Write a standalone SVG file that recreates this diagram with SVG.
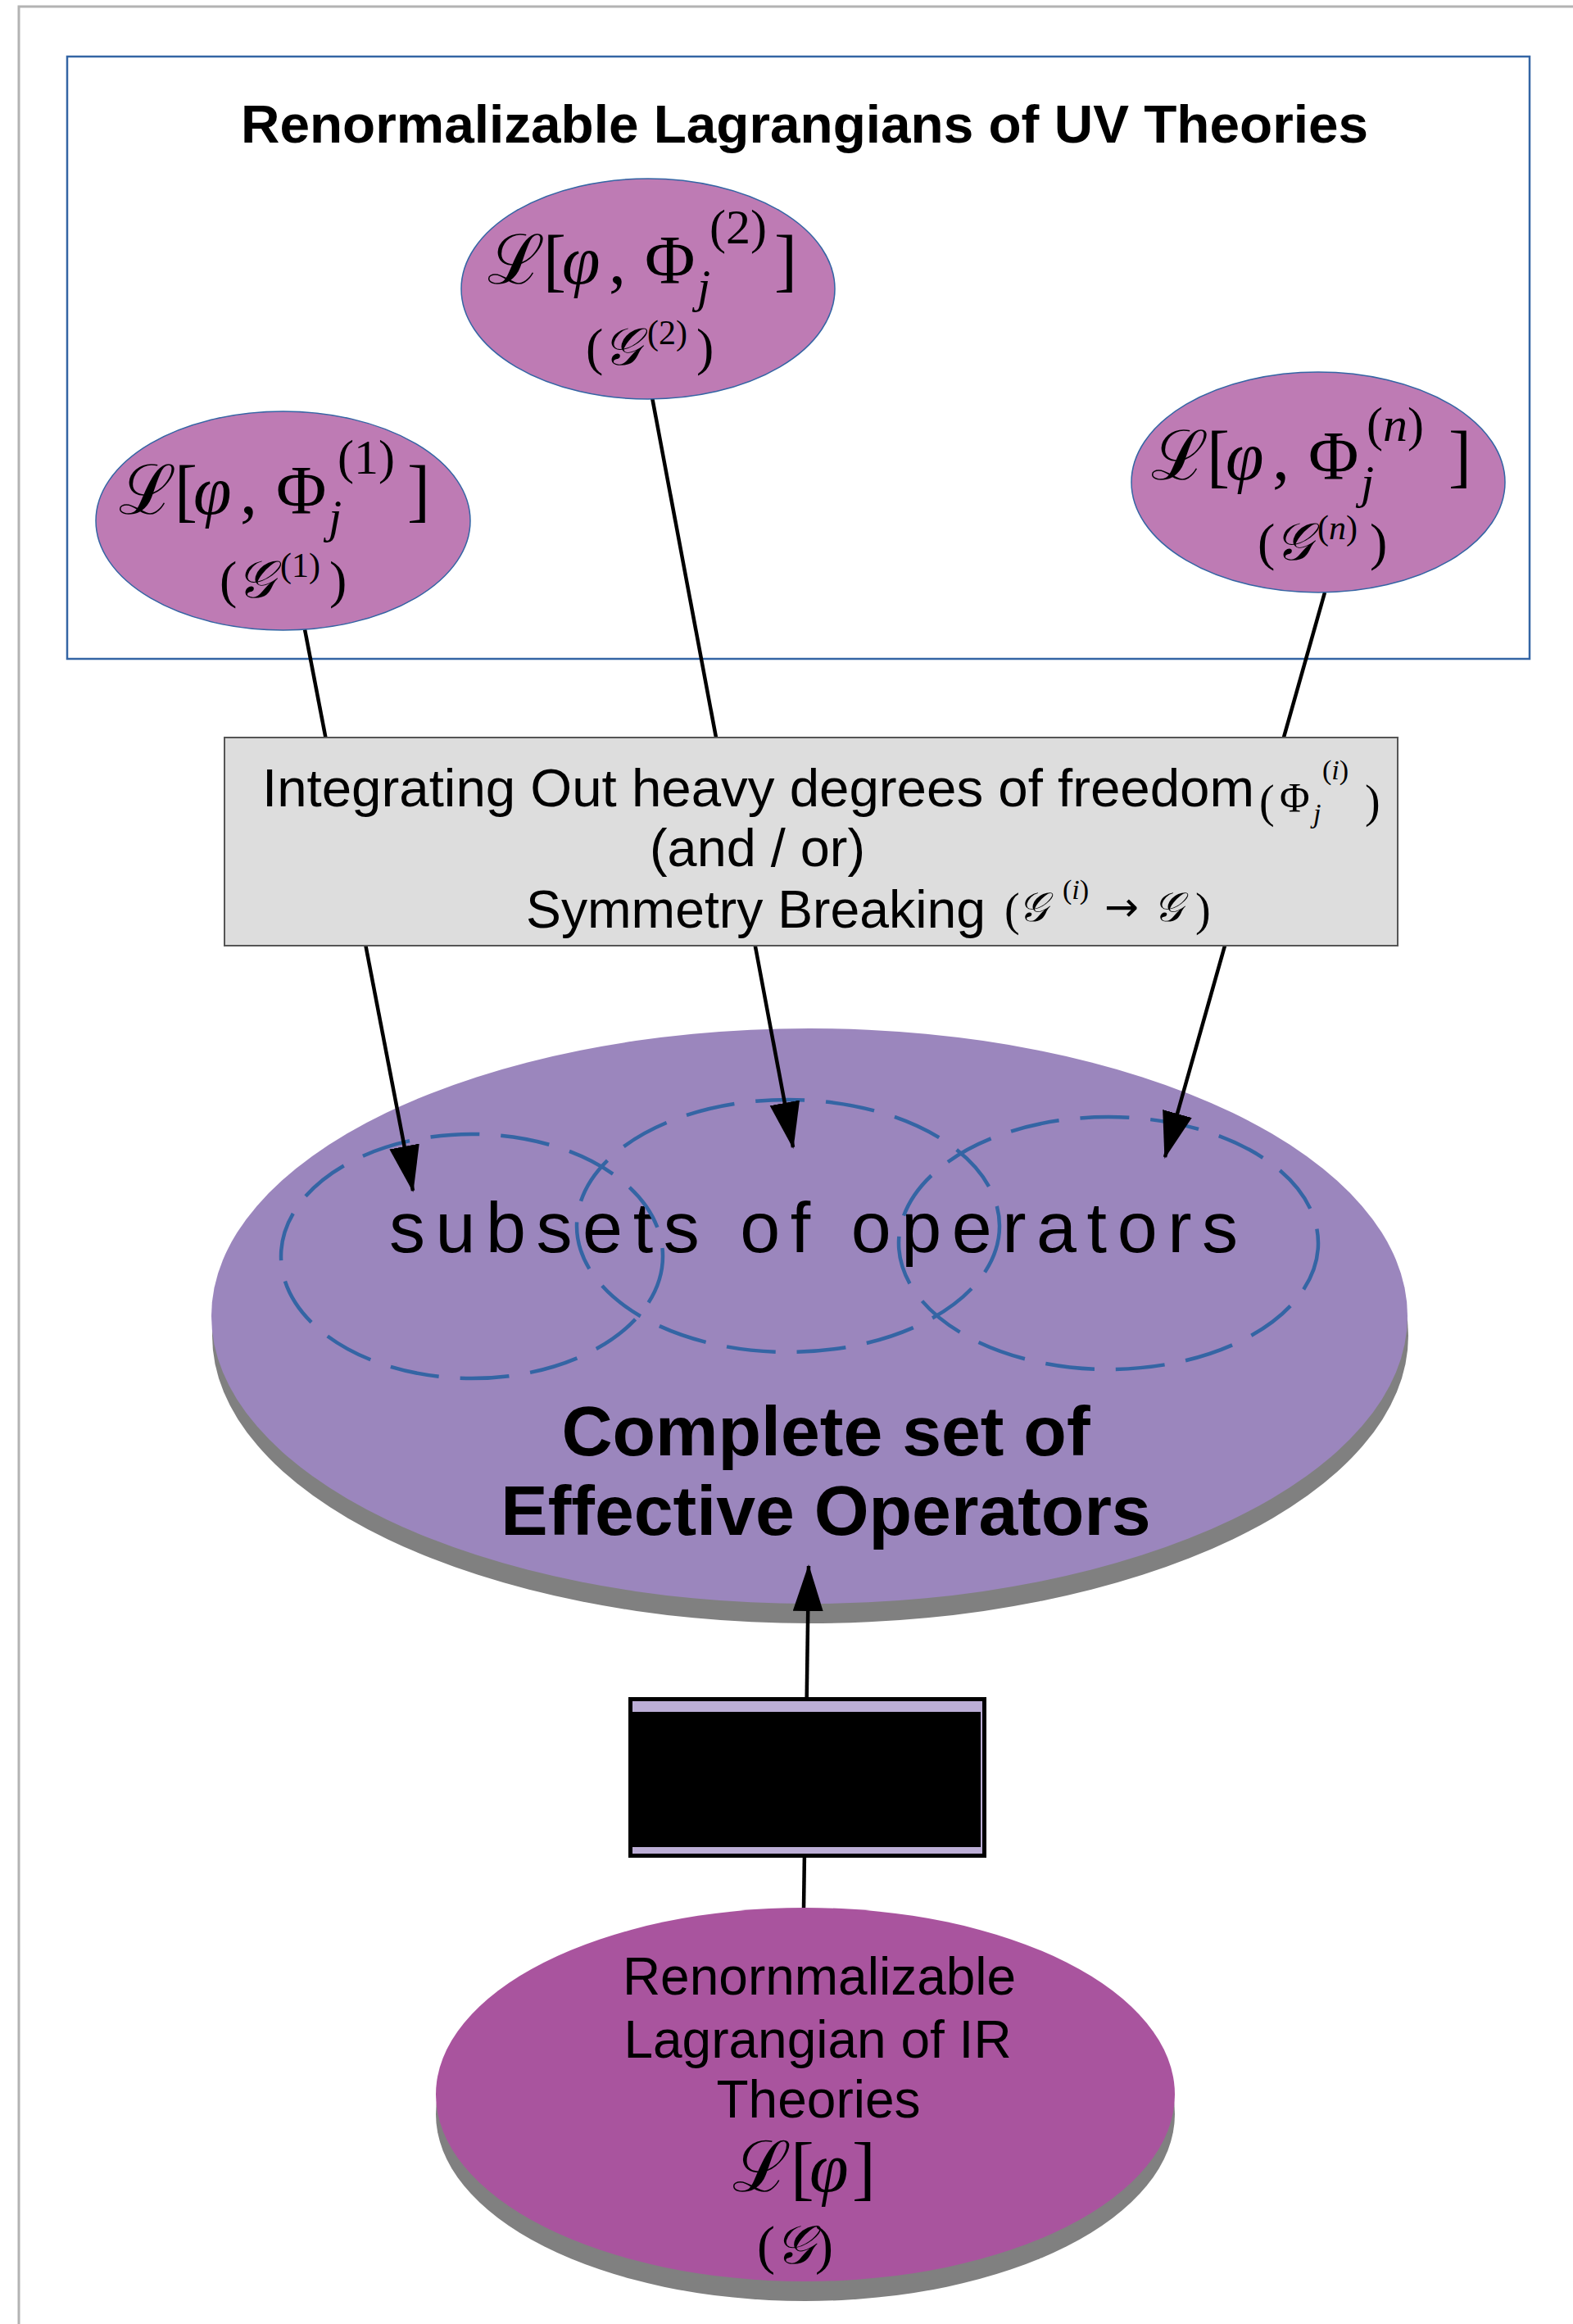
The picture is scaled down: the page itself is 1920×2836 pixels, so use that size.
<svg xmlns="http://www.w3.org/2000/svg" width="1920" height="2836" viewBox="0 0 1920 2836">
<style>
.uv{fill:#be7bb4;stroke:#3465a4;stroke-width:1.5}
.m{font-family:"Liberation Serif","DejaVu Serif",serif;fill:#000}
.i{font-style:italic}
.t{font-family:"Liberation Sans",Arial,sans-serif;fill:#000}
.b{font-weight:bold}
.conn{stroke:#000;stroke-width:4.5;fill:none}
.dash{fill:none;stroke:#3465a4;stroke-width:4.5;stroke-dasharray:60 26}
</style>
<defs>
<marker id="ah" markerUnits="userSpaceOnUse" markerWidth="60" markerHeight="40" refX="55" refY="18.5" orient="auto"><path d="M0,0 L57,18.5 L0,37 z" fill="#000"/></marker>
</defs>
<rect width="1920" height="2836" fill="#fff"/>
<path d="M23,2836 V8 H1920" fill="none" stroke="#b3b3b3" stroke-width="3"/>

<g id="uv-theories">
<rect x="82" y="69" width="1785" height="735" fill="none" stroke="#3465a4" stroke-width="2.5"/>
<text class="t b" x="982" y="174" font-size="64" text-anchor="middle" textLength="1376" lengthAdjust="spacingAndGlyphs">Renormalizable Lagrangians of UV Theories</text>
</g>

<g id="complete-set">
<ellipse cx="989" cy="1630" rx="730" ry="351" fill="#808080"/>
<ellipse cx="988" cy="1606" rx="730" ry="351" fill="#9b86bd"/>
<text class="t" x="475" y="1528" font-size="88" textLength="1036" lengthAdjust="spacing">subsets of operators</text>
<ellipse class="dash" cx="576" cy="1533" rx="233" ry="149"/>
<ellipse class="dash" cx="962" cy="1496" rx="258" ry="154"/>
<ellipse class="dash" cx="1353" cy="1517" rx="256" ry="154"/>
<text class="t b" x="1008" y="1776" font-size="86" text-anchor="middle">Complete set of</text>
<text class="t b" x="1008" y="1873" font-size="86" text-anchor="middle">Effective Operators</text>
</g>

<g id="connectors">
<line class="conn" x1="372" y1="768" x2="504" y2="1453" marker-end="url(#ah)"/>
<line class="conn" x1="796" y1="485" x2="968" y2="1400" marker-end="url(#ah)"/>
<line class="conn" x1="1617" y1="723" x2="1422" y2="1412" marker-end="url(#ah)"/>
<line class="conn" x1="981" y1="2329" x2="987" y2="1911" marker-end="url(#ah)"/>
</g>

<g id="integrating-out">
<rect x="274" y="900" width="1432" height="254" fill="#dddddd" stroke="#555" stroke-width="2"/>
<text class="t" x="320" y="984" font-size="65" textLength="1211" lengthAdjust="spacingAndGlyphs">Integrating Out heavy degrees of freedom</text>
<text class="m" font-size="56"><tspan x="1537" y="997">(</tspan><tspan x="1562" y="990" font-size="50">Φ</tspan><tspan x="1666" y="997">)</tspan></text>
<text class="m" font-size="34"><tspan x="1614" y="951">(</tspan><tspan class="i">i</tspan><tspan>)</tspan></text>
<text class="m i" font-size="34" x="1603" y="1004">j</text>
<text class="t" x="793" y="1057" font-size="65" textLength="263" lengthAdjust="spacingAndGlyphs">(and / or)</text>
<text class="t" x="642" y="1132" font-size="65" textLength="561" lengthAdjust="spacingAndGlyphs">Symmetry Breaking</text>
<text class="m" font-size="56"><tspan x="1226" y="1129">(</tspan><tspan class="i" x="1243" y="1124" font-size="50">𝒢</tspan><tspan x="1348" y="1124" font-family="DejaVu Sans" font-size="50">→</tspan><tspan class="i" x="1408" y="1124" font-size="50">𝒢</tspan><tspan x="1459" y="1129">)</tspan></text>
<text class="m" font-size="34"><tspan x="1297" y="1097">(</tspan><tspan class="i">i</tspan><tspan>)</tspan></text>
</g>

<g id="uv-1">
<ellipse class="uv" cx="345.5" cy="635.5" rx="228.5" ry="133.5"/>
<text class="m" font-size="84"><tspan x="145" y="627">ℒ</tspan><tspan x="213" y="627">[</tspan><tspan class="i" x="236" y="627">φ</tspan><tspan x="293" y="627">,</tspan><tspan x="337" y="627">Φ</tspan><tspan x="497" y="627">]</tspan></text>
<text class="m i" font-size="58" x="401" y="650">j</text>
<text class="m" font-size="60" x="412" y="578">(1)</text>
<text class="m" font-size="64"><tspan x="268" y="729">(</tspan><tspan class="i" x="289" y="729">𝒢</tspan><tspan x="402" y="729">)</tspan></text>
<text class="m" font-size="42" x="342" y="704">(1)</text>
</g>

<g id="uv-2">
<ellipse class="uv" cx="791" cy="352.5" rx="228" ry="134.5"/>
<text class="m" font-size="84"><tspan x="595" y="346">ℒ</tspan><tspan x="663" y="346">[</tspan><tspan class="i" x="686" y="346">φ</tspan><tspan x="743" y="346">,</tspan><tspan x="787" y="346">Φ</tspan><tspan x="945" y="346">]</tspan></text>
<text class="m i" font-size="58" x="851" y="369">j</text>
<text class="m" font-size="60" x="866" y="297">(2)</text>
<text class="m" font-size="64"><tspan x="715" y="445">(</tspan><tspan class="i" x="736" y="445">𝒢</tspan><tspan x="850" y="445">)</tspan></text>
<text class="m" font-size="42" x="790" y="420">(2)</text>
</g>

<g id="uv-n">
<ellipse class="uv" cx="1609" cy="588.5" rx="228" ry="134.5"/>
<text class="m" font-size="84"><tspan x="1405" y="585">ℒ</tspan><tspan x="1473" y="585">[</tspan><tspan class="i" x="1496" y="585">φ</tspan><tspan x="1553" y="585">,</tspan><tspan x="1597" y="585">Φ</tspan><tspan x="1768" y="585">]</tspan></text>
<text class="m i" font-size="58" x="1661" y="608">j</text>
<text class="m" font-size="60" x="1668" y="538">(<tspan class="i">n</tspan>)</text>
<text class="m" font-size="64"><tspan x="1535" y="683">(</tspan><tspan class="i" x="1556" y="683">𝒢</tspan><tspan x="1672" y="683">)</tspan></text>
<text class="m" font-size="42" x="1608" y="658">(<tspan class="i">n</tspan>)</text>
</g>

<g id="black-box">
<rect x="769.5" y="2073.5" width="432" height="191" fill="#bcaed6" stroke="#000" stroke-width="5"/>
<rect x="772" y="2089" width="425" height="165" fill="#000"/>
</g>

<g id="ir-theory">
<ellipse cx="983" cy="2580" rx="451" ry="228" fill="#808080"/>
<ellipse cx="983" cy="2556" rx="451" ry="228" fill="#a9549e"/>
<text class="t" x="1000" y="2434" font-size="64" text-anchor="middle">Renornmalizable</text>
<text class="t" x="998" y="2511" font-size="64" text-anchor="middle">Lagrangian of IR</text>
<text class="t" x="999" y="2584" font-size="64" text-anchor="middle">Theories</text>
<text class="m" font-size="86"><tspan x="894" y="2674">ℒ</tspan><tspan x="965" y="2674">[</tspan><tspan class="i" x="988" y="2674">φ</tspan><tspan x="1040" y="2674">]</tspan></text>
<text class="m" font-size="66"><tspan x="924" y="2762">(</tspan><tspan class="i" x="946" y="2762">𝒢</tspan><tspan x="995" y="2762">)</tspan></text>
</g>
</svg>
